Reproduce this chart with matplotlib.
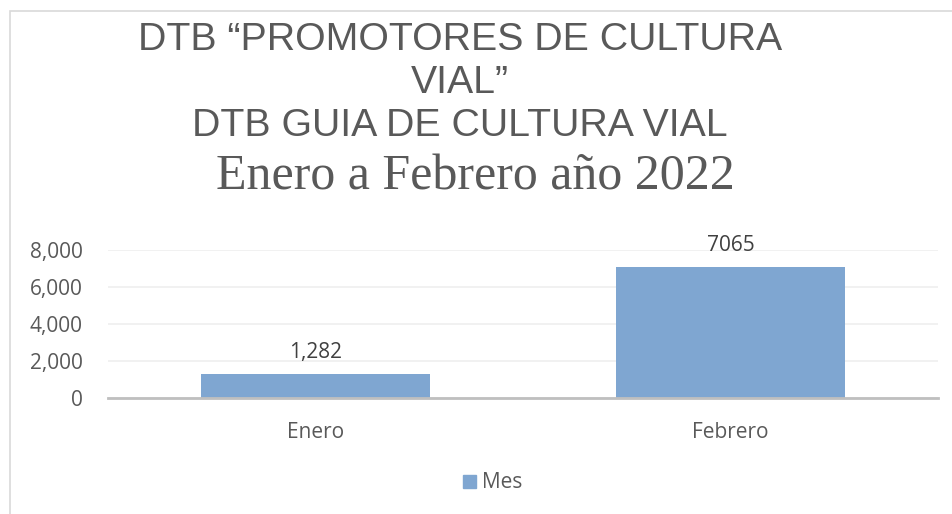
import matplotlib
matplotlib.use("Agg")
import matplotlib.pyplot as plt
from matplotlib.patches import Rectangle, Patch
from matplotlib.ticker import FuncFormatter

categories = ["Enero", "Febrero"]
values = [1282, 7065]
value_labels = ["1,282", "7065"]
yticks = [0, 2000, 4000, 6000, 8000]
title_lines = ["DTB \u201cPROMOTORES DE CULTURA", "VIAL\u201d", "DTB GUIA DE CULTURA VIAL"]
subtitle = "Enero a Febrero a\u00f1o 2022"
series_name = "Mes"

W, H = 952, 514
fig = plt.figure(figsize=(W / 100, H / 100), dpi=100)
fig.patch.set_facecolor("white")

fig.patches.append(Rectangle((10 / W, -0.1), 1.2, 1.1 - 11 / H, transform=fig.transFigure,
                             fill=False, edgecolor="#d9d9d9", linewidth=1.2))

ax = fig.add_axes([108 / W, (H - 398) / H, (938 - 108) / W, (398 - 250) / H])
bar_color = "#7fa6d1"
tick_font = ["Open Sans", "DejaVu Sans"]
lab_size = 15
x = list(range(len(categories)))
ax.bar(x, values, width=0.554, color=bar_color, zorder=3)
ax.set_xlim(-0.5, len(categories) - 0.5)
ax.set_ylim(0, 8000)
ax.set_yticks(yticks)
ax.yaxis.set_major_formatter(FuncFormatter(lambda v, p: f"{int(v):,}"))
ax.set_xticks(x)
ax.set_xticklabels(categories)
for s in ["top", "right", "left"]:
    ax.spines[s].set_visible(False)
ax.spines["bottom"].set_color("#bfbfbf")
ax.spines["bottom"].set_linewidth(2)
ax.spines["bottom"].set_zorder(4)
ax.grid(axis="y", color="#efefef", linewidth=1.2, zorder=0)
ax.tick_params(axis="both", length=0, labelsize=lab_size, labelcolor="#595959")
ax.tick_params(axis="y", pad=18)
ax.tick_params(axis="x", pad=17)
for lab in ax.get_yticklabels() + ax.get_xticklabels():
    lab.set_family(tick_font)
for xi, v, t in zip(x, values, value_labels):
    ax.annotate(t, (xi, v), xytext=(0, 8), textcoords="offset points", ha="center", va="bottom",
                fontsize=lab_size, color="#404040", family=tick_font)

title_font = ["Liberation Sans", "DejaVu Sans"]
ys = [40, 83, 126]
for t, yy in zip(title_lines, ys):
    fig.text(460 / W, 1 - yy / H, t, ha="center", va="center", fontsize=28.3, color="#595959",
             family=title_font)
fig.text(475 / W, 1 - 177 / H, subtitle, ha="center", va="center", fontsize=36, color="#595959",
         family=["Liberation Serif", "DejaVu Serif"])

leg = fig.legend(handles=[Patch(color=bar_color, label=series_name)], loc="center",
                 bbox_to_anchor=(493 / W, 1 - 483 / H), frameon=False,
                 prop={"size": 15, "family": tick_font},
                 handlelength=0.6, handleheight=0.6, handletextpad=0.3)
for t in leg.get_texts():
    t.set_color("#595959")

fig.savefig("out.png", dpi=100)
